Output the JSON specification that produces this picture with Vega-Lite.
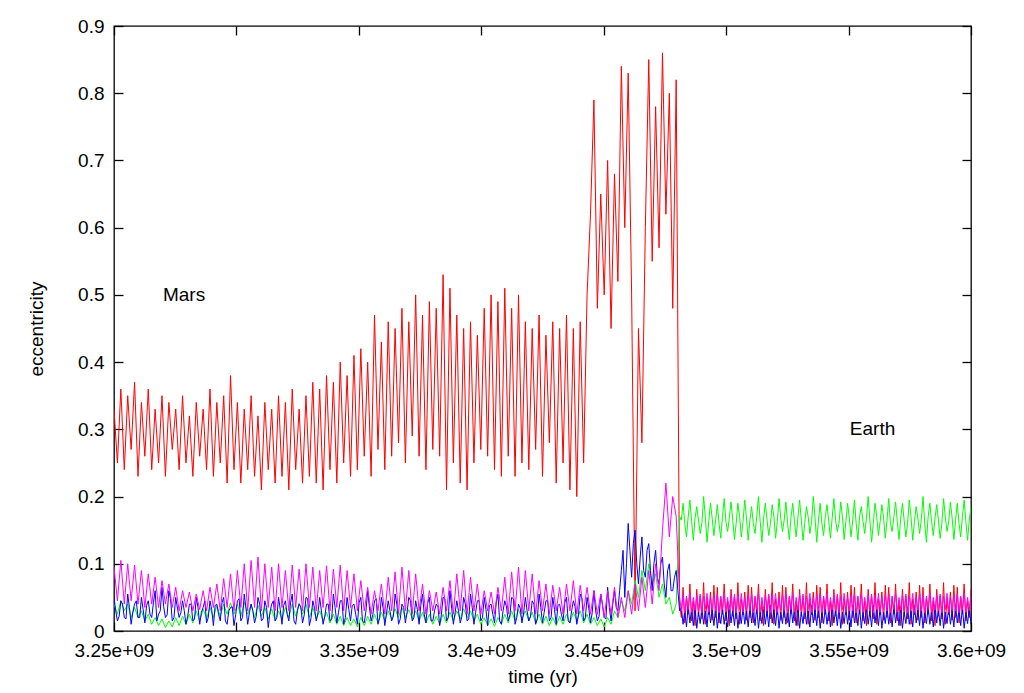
{
"$schema":"https://vega.github.io/schema/vega-lite/v6.json",
"width":857,"height":605,
"autosize":{"type":"none"},
"padding":{"left":114,"top":26,"right":53,"bottom":62},
"background":"white",
"config":{
 "view":{"stroke":"#000","strokeWidth":1.3},
 "font":"Liberation Sans",
 "axis":{"grid":false,"domain":false,"tickColor":"#000","tickSize":-9,"tickWidth":1.3,"labelFont":"Liberation Sans","labelFontSize":19,"labelColor":"#000","titleFont":"Liberation Sans","titleFontSize":19,"titleFontWeight":"normal","titleColor":"#000"}
},
"data":{"values":[
{"t":3.25e9,"mars":0.33,"earth":0.04,"venus":0.05,"mercury":0.095},
{"t":3.2514e9,"mars":0.25,"earth":0.025,"venus":0.015,"mercury":0.045},
{"t":3.2528e9,"mars":0.36,"earth":0.045,"venus":0.045,"mercury":0.105},
{"t":3.2542e9,"mars":0.24,"earth":0.03,"venus":0.02,"mercury":0.04},
{"t":3.2556e9,"mars":0.35,"earth":0.04,"venus":0.055,"mercury":0.1},
{"t":3.257e9,"mars":0.27,"earth":0.02,"venus":0.01,"mercury":0.045},
{"t":3.2584e9,"mars":0.37,"earth":0.035,"venus":0.04,"mercury":0.098},
{"t":3.2598e9,"mars":0.23,"earth":0.02,"venus":0.02,"mercury":0.04},
{"t":3.2612e9,"mars":0.34,"earth":0.03,"venus":0.05,"mercury":0.09},
{"t":3.2626e9,"mars":0.26,"earth":0.015,"venus":0.012,"mercury":0.035},
{"t":3.264e9,"mars":0.36,"earth":0.025,"venus":0.045,"mercury":0.085},
{"t":3.2654e9,"mars":0.24,"earth":0.01,"venus":0.02,"mercury":0.04},
{"t":3.2668e9,"mars":0.33,"earth":0.02,"venus":0.06,"mercury":0.08},
{"t":3.2682e9,"mars":0.25,"earth":0.008,"venus":0.025,"mercury":0.035},
{"t":3.2696e9,"mars":0.35,"earth":0.018,"venus":0.065,"mercury":0.075},
{"t":3.271e9,"mars":0.23,"earth":0.005,"venus":0.02,"mercury":0.04},
{"t":3.2724e9,"mars":0.34,"earth":0.015,"venus":0.06,"mercury":0.07},
{"t":3.2738e9,"mars":0.27,"earth":0.006,"venus":0.015,"mercury":0.035},
{"t":3.2752e9,"mars":0.33,"earth":0.02,"venus":0.05,"mercury":0.065},
{"t":3.2766e9,"mars":0.24,"earth":0.008,"venus":0.02,"mercury":0.03},
{"t":3.278e9,"mars":0.35,"earth":0.022,"venus":0.045,"mercury":0.06},
{"t":3.2794e9,"mars":0.25,"earth":0.01,"venus":0.01,"mercury":0.035},
{"t":3.2808e9,"mars":0.32,"earth":0.025,"venus":0.04,"mercury":0.058},
{"t":3.2822e9,"mars":0.23,"earth":0.012,"venus":0.015,"mercury":0.03},
{"t":3.2836e9,"mars":0.34,"earth":0.03,"venus":0.05,"mercury":0.055},
{"t":3.285e9,"mars":0.26,"earth":0.015,"venus":0.01,"mercury":0.032},
{"t":3.2864e9,"mars":0.33,"earth":0.033,"venus":0.035,"mercury":0.06},
{"t":3.2878e9,"mars":0.24,"earth":0.018,"venus":0.012,"mercury":0.03},
{"t":3.2892e9,"mars":0.36,"earth":0.035,"venus":0.045,"mercury":0.065},
{"t":3.2906e9,"mars":0.23,"earth":0.02,"venus":0.008,"mercury":0.035},
{"t":3.292e9,"mars":0.34,"earth":0.038,"venus":0.04,"mercury":0.07},
{"t":3.2934e9,"mars":0.25,"earth":0.022,"venus":0.015,"mercury":0.03},
{"t":3.2948e9,"mars":0.35,"earth":0.04,"venus":0.05,"mercury":0.078},
{"t":3.2962e9,"mars":0.22,"earth":0.025,"venus":0.01,"mercury":0.035},
{"t":3.2976e9,"mars":0.38,"earth":0.042,"venus":0.035,"mercury":0.085},
{"t":3.299e9,"mars":0.24,"earth":0.025,"venus":0.008,"mercury":0.03},
{"t":3.3004e9,"mars":0.34,"earth":0.04,"venus":0.045,"mercury":0.09},
{"t":3.3018e9,"mars":0.22,"earth":0.022,"venus":0.015,"mercury":0.035},
{"t":3.3032e9,"mars":0.33,"earth":0.043,"venus":0.055,"mercury":0.1},
{"t":3.3046e9,"mars":0.24,"earth":0.025,"venus":0.01,"mercury":0.03},
{"t":3.306e9,"mars":0.35,"earth":0.04,"venus":0.04,"mercury":0.105},
{"t":3.3074e9,"mars":0.23,"earth":0.02,"venus":0.012,"mercury":0.035},
{"t":3.3088e9,"mars":0.32,"earth":0.038,"venus":0.05,"mercury":0.11},
{"t":3.3102e9,"mars":0.21,"earth":0.022,"venus":0.015,"mercury":0.03},
{"t":3.3116e9,"mars":0.34,"earth":0.035,"venus":0.045,"mercury":0.1},
{"t":3.313e9,"mars":0.24,"earth":0.018,"venus":0.005,"mercury":0.035},
{"t":3.3144e9,"mars":0.33,"earth":0.033,"venus":0.04,"mercury":0.095},
{"t":3.3158e9,"mars":0.22,"earth":0.015,"venus":0.015,"mercury":0.03},
{"t":3.3172e9,"mars":0.35,"earth":0.03,"venus":0.05,"mercury":0.1},
{"t":3.3186e9,"mars":0.23,"earth":0.018,"venus":0.01,"mercury":0.035},
{"t":3.32e9,"mars":0.34,"earth":0.035,"venus":0.045,"mercury":0.09},
{"t":3.3214e9,"mars":0.21,"earth":0.02,"venus":0.015,"mercury":0.03},
{"t":3.3228e9,"mars":0.36,"earth":0.04,"venus":0.055,"mercury":0.098},
{"t":3.3242e9,"mars":0.24,"earth":0.022,"venus":0.01,"mercury":0.035},
{"t":3.3256e9,"mars":0.33,"earth":0.042,"venus":0.04,"mercury":0.092},
{"t":3.327e9,"mars":0.22,"earth":0.025,"venus":0.012,"mercury":0.03},
{"t":3.3284e9,"mars":0.35,"earth":0.04,"venus":0.05,"mercury":0.1},
{"t":3.3298e9,"mars":0.23,"earth":0.02,"venus":0.008,"mercury":0.035},
{"t":3.3312e9,"mars":0.37,"earth":0.035,"venus":0.045,"mercury":0.095},
{"t":3.3326e9,"mars":0.22,"earth":0.018,"venus":0.015,"mercury":0.03},
{"t":3.334e9,"mars":0.36,"earth":0.03,"venus":0.05,"mercury":0.09},
{"t":3.3354e9,"mars":0.21,"earth":0.015,"venus":0.01,"mercury":0.035},
{"t":3.3368e9,"mars":0.38,"earth":0.028,"venus":0.04,"mercury":0.097},
{"t":3.3382e9,"mars":0.24,"earth":0.012,"venus":0.015,"mercury":0.03},
{"t":3.3396e9,"mars":0.37,"earth":0.025,"venus":0.055,"mercury":0.092},
{"t":3.341e9,"mars":0.22,"earth":0.01,"venus":0.012,"mercury":0.035},
{"t":3.3424e9,"mars":0.40,"earth":0.022,"venus":0.045,"mercury":0.098},
{"t":3.3438e9,"mars":0.25,"earth":0.008,"venus":0.01,"mercury":0.03},
{"t":3.3452e9,"mars":0.38,"earth":0.02,"venus":0.05,"mercury":0.09},
{"t":3.3466e9,"mars":0.23,"earth":0.008,"venus":0.015,"mercury":0.035},
{"t":3.348e9,"mars":0.41,"earth":0.018,"venus":0.04,"mercury":0.085},
{"t":3.3494e9,"mars":0.24,"earth":0.006,"venus":0.01,"mercury":0.03},
{"t":3.3508e9,"mars":0.42,"earth":0.02,"venus":0.05,"mercury":0.075},
{"t":3.3522e9,"mars":0.26,"earth":0.008,"venus":0.012,"mercury":0.03},
{"t":3.3536e9,"mars":0.40,"earth":0.022,"venus":0.06,"mercury":0.065},
{"t":3.355e9,"mars":0.23,"earth":0.01,"venus":0.015,"mercury":0.025},
{"t":3.3564e9,"mars":0.47,"earth":0.025,"venus":0.045,"mercury":0.06},
{"t":3.3578e9,"mars":0.27,"earth":0.012,"venus":0.01,"mercury":0.03},
{"t":3.3592e9,"mars":0.43,"earth":0.028,"venus":0.05,"mercury":0.07},
{"t":3.3606e9,"mars":0.24,"earth":0.015,"venus":0.008,"mercury":0.025},
{"t":3.362e9,"mars":0.46,"earth":0.03,"venus":0.045,"mercury":0.08},
{"t":3.3634e9,"mars":0.26,"earth":0.018,"venus":0.015,"mercury":0.03},
{"t":3.3648e9,"mars":0.45,"earth":0.033,"venus":0.055,"mercury":0.088},
{"t":3.3662e9,"mars":0.28,"earth":0.02,"venus":0.01,"mercury":0.025},
{"t":3.3676e9,"mars":0.48,"earth":0.035,"venus":0.04,"mercury":0.095},
{"t":3.369e9,"mars":0.25,"earth":0.02,"venus":0.012,"mercury":0.03},
{"t":3.3704e9,"mars":0.46,"earth":0.032,"venus":0.05,"mercury":0.09},
{"t":3.3718e9,"mars":0.29,"earth":0.018,"venus":0.015,"mercury":0.025},
{"t":3.3732e9,"mars":0.50,"earth":0.03,"venus":0.045,"mercury":0.085},
{"t":3.3746e9,"mars":0.26,"earth":0.015,"venus":0.01,"mercury":0.03},
{"t":3.376e9,"mars":0.47,"earth":0.028,"venus":0.055,"mercury":0.07},
{"t":3.3774e9,"mars":0.24,"earth":0.012,"venus":0.012,"mercury":0.025},
{"t":3.3788e9,"mars":0.49,"earth":0.025,"venus":0.05,"mercury":0.06},
{"t":3.3802e9,"mars":0.27,"earth":0.01,"venus":0.015,"mercury":0.03},
{"t":3.3816e9,"mars":0.48,"earth":0.022,"venus":0.04,"mercury":0.058},
{"t":3.383e9,"mars":0.26,"earth":0.01,"venus":0.008,"mercury":0.025},
{"t":3.3844e9,"mars":0.53,"earth":0.025,"venus":0.05,"mercury":0.065},
{"t":3.3858e9,"mars":0.21,"earth":0.012,"venus":0.015,"mercury":0.03},
{"t":3.3872e9,"mars":0.51,"earth":0.028,"venus":0.06,"mercury":0.075},
{"t":3.3886e9,"mars":0.25,"earth":0.015,"venus":0.01,"mercury":0.025},
{"t":3.39e9,"mars":0.47,"earth":0.03,"venus":0.045,"mercury":0.085},
{"t":3.3914e9,"mars":0.22,"earth":0.018,"venus":0.012,"mercury":0.03},
{"t":3.3928e9,"mars":0.45,"earth":0.033,"venus":0.05,"mercury":0.09},
{"t":3.3942e9,"mars":0.21,"earth":0.02,"venus":0.015,"mercury":0.025},
{"t":3.3956e9,"mars":0.46,"earth":0.03,"venus":0.055,"mercury":0.08},
{"t":3.397e9,"mars":0.25,"earth":0.015,"venus":0.01,"mercury":0.03},
{"t":3.3984e9,"mars":0.44,"earth":0.025,"venus":0.045,"mercury":0.07},
{"t":3.3998e9,"mars":0.27,"earth":0.01,"venus":0.015,"mercury":0.025},
{"t":3.4012e9,"mars":0.48,"earth":0.02,"venus":0.05,"mercury":0.06},
{"t":3.4026e9,"mars":0.26,"earth":0.008,"venus":0.008,"mercury":0.03},
{"t":3.404e9,"mars":0.50,"earth":0.018,"venus":0.04,"mercury":0.058},
{"t":3.4054e9,"mars":0.24,"earth":0.007,"venus":0.012,"mercury":0.025},
{"t":3.4068e9,"mars":0.49,"earth":0.02,"venus":0.055,"mercury":0.065},
{"t":3.4082e9,"mars":0.23,"earth":0.01,"venus":0.01,"mercury":0.03},
{"t":3.4096e9,"mars":0.51,"earth":0.025,"venus":0.045,"mercury":0.08},
{"t":3.411e9,"mars":0.26,"earth":0.012,"venus":0.015,"mercury":0.025},
{"t":3.4124e9,"mars":0.48,"earth":0.03,"venus":0.05,"mercury":0.088},
{"t":3.4138e9,"mars":0.23,"earth":0.015,"venus":0.01,"mercury":0.03},
{"t":3.4152e9,"mars":0.50,"earth":0.032,"venus":0.04,"mercury":0.095},
{"t":3.4166e9,"mars":0.25,"earth":0.018,"venus":0.012,"mercury":0.025},
{"t":3.418e9,"mars":0.46,"earth":0.03,"venus":0.05,"mercury":0.09},
{"t":3.4194e9,"mars":0.24,"earth":0.015,"venus":0.015,"mercury":0.03},
{"t":3.4208e9,"mars":0.45,"earth":0.028,"venus":0.045,"mercury":0.085},
{"t":3.4222e9,"mars":0.27,"earth":0.012,"venus":0.01,"mercury":0.025},
{"t":3.4236e9,"mars":0.47,"earth":0.025,"venus":0.055,"mercury":0.075},
{"t":3.425e9,"mars":0.23,"earth":0.01,"venus":0.012,"mercury":0.03},
{"t":3.4264e9,"mars":0.44,"earth":0.022,"venus":0.045,"mercury":0.07},
{"t":3.4278e9,"mars":0.28,"earth":0.008,"venus":0.015,"mercury":0.025},
{"t":3.4292e9,"mars":0.46,"earth":0.02,"venus":0.05,"mercury":0.068},
{"t":3.4306e9,"mars":0.22,"earth":0.008,"venus":0.01,"mercury":0.03},
{"t":3.432e9,"mars":0.45,"earth":0.022,"venus":0.04,"mercury":0.065},
{"t":3.4334e9,"mars":0.25,"earth":0.01,"venus":0.015,"mercury":0.025},
{"t":3.4348e9,"mars":0.47,"earth":0.025,"venus":0.05,"mercury":0.07},
{"t":3.4362e9,"mars":0.21,"earth":0.012,"venus":0.012,"mercury":0.03},
{"t":3.4376e9,"mars":0.45,"earth":0.028,"venus":0.045,"mercury":0.075},
{"t":3.439e9,"mars":0.20,"earth":0.015,"venus":0.01,"mercury":0.025},
{"t":3.4404e9,"mars":0.46,"earth":0.03,"venus":0.055,"mercury":0.068},
{"t":3.4418e9,"mars":0.25,"earth":0.012,"venus":0.015,"mercury":0.03},
{"t":3.4432e9,"mars":0.50,"earth":0.025,"venus":0.05,"mercury":0.065},
{"t":3.4446e9,"mars":0.62,"earth":0.01,"venus":0.012,"mercury":0.025},
{"t":3.446e9,"mars":0.79,"earth":0.02,"venus":0.06,"mercury":0.06},
{"t":3.4474e9,"mars":0.48,"earth":0.008,"venus":0.015,"mercury":0.025},
{"t":3.4488e9,"mars":0.65,"earth":0.018,"venus":0.055,"mercury":0.055},
{"t":3.4502e9,"mars":0.50,"earth":0.006,"venus":0.02,"mercury":0.02},
{"t":3.4516e9,"mars":0.70,"earth":0.02,"venus":0.065,"mercury":0.06},
{"t":3.453e9,"mars":0.45,"earth":0.01,"venus":0.015,"mercury":0.025},
{"t":3.4544e9,"mars":0.68,"earth":0.03,"venus":0.06,"mercury":0.065},
{"t":3.4558e9,"mars":0.52,"earth":0.02,"venus":0.03,"mercury":0.02},
{"t":3.4572e9,"mars":0.84,"earth":0.045,"venus":0.09,"mercury":0.05},
{"t":3.4586e9,"mars":0.60,"earth":0.03,"venus":0.05,"mercury":0.02},
{"t":3.46e9,"mars":0.83,"earth":0.06,"venus":0.16,"mercury":0.06},
{"t":3.4614e9,"mars":0.50,"earth":0.04,"venus":0.08,"mercury":0.025},
{"t":3.4628e9,"mars":0.03,"earth":0.075,"venus":0.15,"mercury":0.07},
{"t":3.4642e9,"mars":0.45,"earth":0.05,"venus":0.07,"mercury":0.03},
{"t":3.4656e9,"mars":0.28,"earth":0.09,"venus":0.14,"mercury":0.08},
{"t":3.467e9,"mars":0.60,"earth":0.06,"venus":0.08,"mercury":0.035},
{"t":3.4684e9,"mars":0.85,"earth":0.1,"venus":0.13,"mercury":0.09},
{"t":3.4698e9,"mars":0.55,"earth":0.07,"venus":0.06,"mercury":0.04},
{"t":3.4712e9,"mars":0.78,"earth":0.085,"venus":0.12,"mercury":0.1},
{"t":3.4726e9,"mars":0.57,"earth":0.05,"venus":0.07,"mercury":0.06},
{"t":3.474e9,"mars":0.86,"earth":0.07,"venus":0.11,"mercury":0.15},
{"t":3.4754e9,"mars":0.62,"earth":0.04,"venus":0.05,"mercury":0.22},
{"t":3.4768e9,"mars":0.80,"earth":0.05,"venus":0.1,"mercury":0.14},
{"t":3.4782e9,"mars":0.48,"earth":0.025,"venus":0.06,"mercury":0.2},
{"t":3.4796e9,"mars":0.82,"earth":0.04,"venus":0.09,"mercury":0.17},
{"t":3.481e9,"mars":0.04,"earth":0.17,"venus":0.03,"mercury":0.05},
{"t":3.4824e9,"mars":0.065,"earth":0.19,"venus":0.01,"mercury":0.055},
{"t":3.4838e9,"mars":0.05,"earth":0.14,"venus":0.006,"mercury":0.052},
{"t":3.4852e9,"mars":0.07,"earth":0.195,"venus":0.012,"mercury":0.056},
{"t":3.4866e9,"mars":0.045,"earth":0.135,"venus":0.008,"mercury":0.05},
{"t":3.488e9,"mars":0.062,"earth":0.185,"venus":0.004,"mercury":0.054},
{"t":3.4894e9,"mars":0.052,"earth":0.145,"venus":0.011,"mercury":0.055},
{"t":3.4908e9,"mars":0.072,"earth":0.2,"venus":0.01,"mercury":0.052},
{"t":3.4922e9,"mars":0.048,"earth":0.132,"venus":0.006,"mercury":0.056},
{"t":3.4936e9,"mars":0.058,"earth":0.19,"venus":0.012,"mercury":0.05},
{"t":3.495e9,"mars":0.068,"earth":0.142,"venus":0.008,"mercury":0.054},
{"t":3.4964e9,"mars":0.065,"earth":0.188,"venus":0.004,"mercury":0.055},
{"t":3.4978e9,"mars":0.05,"earth":0.138,"venus":0.011,"mercury":0.052},
{"t":3.4992e9,"mars":0.07,"earth":0.197,"venus":0.01,"mercury":0.056},
{"t":3.5006e9,"mars":0.045,"earth":0.148,"venus":0.006,"mercury":0.05},
{"t":3.502e9,"mars":0.062,"earth":0.192,"venus":0.012,"mercury":0.054},
{"t":3.5034e9,"mars":0.052,"earth":0.136,"venus":0.008,"mercury":0.055},
{"t":3.5048e9,"mars":0.072,"earth":0.19,"venus":0.004,"mercury":0.052},
{"t":3.5062e9,"mars":0.048,"earth":0.14,"venus":0.011,"mercury":0.056},
{"t":3.5076e9,"mars":0.058,"earth":0.195,"venus":0.01,"mercury":0.05},
{"t":3.509e9,"mars":0.068,"earth":0.135,"venus":0.006,"mercury":0.054},
{"t":3.5104e9,"mars":0.065,"earth":0.185,"venus":0.012,"mercury":0.055},
{"t":3.5118e9,"mars":0.05,"earth":0.145,"venus":0.008,"mercury":0.052},
{"t":3.5132e9,"mars":0.07,"earth":0.2,"venus":0.004,"mercury":0.056},
{"t":3.5146e9,"mars":0.045,"earth":0.132,"venus":0.011,"mercury":0.05},
{"t":3.516e9,"mars":0.062,"earth":0.19,"venus":0.01,"mercury":0.054},
{"t":3.5174e9,"mars":0.052,"earth":0.142,"venus":0.006,"mercury":0.055},
{"t":3.5188e9,"mars":0.072,"earth":0.188,"venus":0.012,"mercury":0.052},
{"t":3.5202e9,"mars":0.048,"earth":0.138,"venus":0.008,"mercury":0.056},
{"t":3.5216e9,"mars":0.058,"earth":0.197,"venus":0.004,"mercury":0.05},
{"t":3.523e9,"mars":0.068,"earth":0.148,"venus":0.011,"mercury":0.054},
{"t":3.5244e9,"mars":0.065,"earth":0.192,"venus":0.01,"mercury":0.055},
{"t":3.5258e9,"mars":0.05,"earth":0.136,"venus":0.006,"mercury":0.052},
{"t":3.5272e9,"mars":0.07,"earth":0.19,"venus":0.012,"mercury":0.056},
{"t":3.5286e9,"mars":0.045,"earth":0.14,"venus":0.008,"mercury":0.05},
{"t":3.53e9,"mars":0.062,"earth":0.195,"venus":0.004,"mercury":0.054},
{"t":3.5314e9,"mars":0.052,"earth":0.135,"venus":0.011,"mercury":0.055},
{"t":3.5328e9,"mars":0.072,"earth":0.185,"venus":0.01,"mercury":0.052},
{"t":3.5342e9,"mars":0.048,"earth":0.145,"venus":0.006,"mercury":0.056},
{"t":3.5356e9,"mars":0.058,"earth":0.2,"venus":0.012,"mercury":0.05},
{"t":3.537e9,"mars":0.068,"earth":0.132,"venus":0.008,"mercury":0.054},
{"t":3.5384e9,"mars":0.065,"earth":0.19,"venus":0.004,"mercury":0.055},
{"t":3.5398e9,"mars":0.05,"earth":0.142,"venus":0.011,"mercury":0.052},
{"t":3.5412e9,"mars":0.07,"earth":0.188,"venus":0.01,"mercury":0.056},
{"t":3.5426e9,"mars":0.045,"earth":0.138,"venus":0.006,"mercury":0.05},
{"t":3.544e9,"mars":0.062,"earth":0.197,"venus":0.012,"mercury":0.054},
{"t":3.5454e9,"mars":0.052,"earth":0.148,"venus":0.008,"mercury":0.055},
{"t":3.5468e9,"mars":0.072,"earth":0.192,"venus":0.004,"mercury":0.052},
{"t":3.5482e9,"mars":0.048,"earth":0.136,"venus":0.011,"mercury":0.056},
{"t":3.5496e9,"mars":0.058,"earth":0.19,"venus":0.01,"mercury":0.05},
{"t":3.551e9,"mars":0.068,"earth":0.14,"venus":0.006,"mercury":0.054},
{"t":3.5524e9,"mars":0.065,"earth":0.195,"venus":0.012,"mercury":0.055},
{"t":3.5538e9,"mars":0.05,"earth":0.135,"venus":0.008,"mercury":0.052},
{"t":3.5552e9,"mars":0.07,"earth":0.185,"venus":0.004,"mercury":0.056},
{"t":3.5566e9,"mars":0.045,"earth":0.145,"venus":0.011,"mercury":0.05},
{"t":3.558e9,"mars":0.062,"earth":0.2,"venus":0.01,"mercury":0.054},
{"t":3.5594e9,"mars":0.052,"earth":0.132,"venus":0.006,"mercury":0.055},
{"t":3.5608e9,"mars":0.072,"earth":0.19,"venus":0.012,"mercury":0.052},
{"t":3.5622e9,"mars":0.048,"earth":0.142,"venus":0.008,"mercury":0.056},
{"t":3.5636e9,"mars":0.058,"earth":0.188,"venus":0.004,"mercury":0.05},
{"t":3.565e9,"mars":0.068,"earth":0.138,"venus":0.011,"mercury":0.054},
{"t":3.5664e9,"mars":0.065,"earth":0.197,"venus":0.01,"mercury":0.055},
{"t":3.5678e9,"mars":0.05,"earth":0.148,"venus":0.006,"mercury":0.052},
{"t":3.5692e9,"mars":0.07,"earth":0.192,"venus":0.012,"mercury":0.056},
{"t":3.5706e9,"mars":0.045,"earth":0.136,"venus":0.008,"mercury":0.05},
{"t":3.572e9,"mars":0.062,"earth":0.19,"venus":0.004,"mercury":0.054},
{"t":3.5734e9,"mars":0.052,"earth":0.14,"venus":0.011,"mercury":0.055},
{"t":3.5748e9,"mars":0.072,"earth":0.195,"venus":0.01,"mercury":0.052},
{"t":3.5762e9,"mars":0.048,"earth":0.135,"venus":0.006,"mercury":0.056},
{"t":3.5776e9,"mars":0.058,"earth":0.185,"venus":0.012,"mercury":0.05},
{"t":3.579e9,"mars":0.068,"earth":0.145,"venus":0.008,"mercury":0.054},
{"t":3.5804e9,"mars":0.065,"earth":0.2,"venus":0.004,"mercury":0.055},
{"t":3.5818e9,"mars":0.05,"earth":0.132,"venus":0.011,"mercury":0.052},
{"t":3.5832e9,"mars":0.07,"earth":0.19,"venus":0.01,"mercury":0.056},
{"t":3.5846e9,"mars":0.045,"earth":0.142,"venus":0.006,"mercury":0.05},
{"t":3.586e9,"mars":0.062,"earth":0.188,"venus":0.012,"mercury":0.054},
{"t":3.5874e9,"mars":0.052,"earth":0.138,"venus":0.008,"mercury":0.055},
{"t":3.5888e9,"mars":0.072,"earth":0.197,"venus":0.004,"mercury":0.052},
{"t":3.5902e9,"mars":0.048,"earth":0.148,"venus":0.011,"mercury":0.056},
{"t":3.5916e9,"mars":0.058,"earth":0.192,"venus":0.01,"mercury":0.05},
{"t":3.593e9,"mars":0.068,"earth":0.136,"venus":0.006,"mercury":0.054},
{"t":3.5944e9,"mars":0.065,"earth":0.19,"venus":0.012,"mercury":0.055},
{"t":3.5958e9,"mars":0.05,"earth":0.14,"venus":0.008,"mercury":0.052},
{"t":3.5972e9,"mars":0.07,"earth":0.195,"venus":0.004,"mercury":0.056},
{"t":3.5986e9,"mars":0.045,"earth":0.135,"venus":0.011,"mercury":0.05},
{"t":3.6e9,"mars":0.062,"earth":0.185,"venus":0.01,"mercury":0.054},
{"t":3.4817e9,"mars":0.02,"earth":0.165,"venus":0.035,"mercury":0.03},
{"t":3.4831e9,"mars":0.012,"earth":0.16,"venus":0.03,"mercury":0.027},
{"t":3.4845e9,"mars":0.025,"earth":0.17,"venus":0.038,"mercury":0.032},
{"t":3.4859e9,"mars":0.015,"earth":0.163,"venus":0.032,"mercury":0.028},
{"t":3.4873e9,"mars":0.008,"earth":0.168,"venus":0.036,"mercury":0.031},
{"t":3.4887e9,"mars":0.022,"earth":0.165,"venus":0.028,"mercury":0.03},
{"t":3.4901e9,"mars":0.018,"earth":0.16,"venus":0.035,"mercury":0.027},
{"t":3.4915e9,"mars":0.01,"earth":0.17,"venus":0.03,"mercury":0.032},
{"t":3.4929e9,"mars":0.024,"earth":0.163,"venus":0.038,"mercury":0.028},
{"t":3.4943e9,"mars":0.016,"earth":0.168,"venus":0.032,"mercury":0.031},
{"t":3.4957e9,"mars":0.02,"earth":0.165,"venus":0.036,"mercury":0.03},
{"t":3.4971e9,"mars":0.012,"earth":0.16,"venus":0.028,"mercury":0.027},
{"t":3.4985e9,"mars":0.025,"earth":0.17,"venus":0.035,"mercury":0.032},
{"t":3.4999e9,"mars":0.015,"earth":0.163,"venus":0.03,"mercury":0.028},
{"t":3.5013e9,"mars":0.008,"earth":0.168,"venus":0.038,"mercury":0.031},
{"t":3.5027e9,"mars":0.022,"earth":0.165,"venus":0.032,"mercury":0.03},
{"t":3.5041e9,"mars":0.018,"earth":0.16,"venus":0.036,"mercury":0.027},
{"t":3.5055e9,"mars":0.01,"earth":0.17,"venus":0.028,"mercury":0.032},
{"t":3.5069e9,"mars":0.024,"earth":0.163,"venus":0.035,"mercury":0.028},
{"t":3.5083e9,"mars":0.016,"earth":0.168,"venus":0.03,"mercury":0.031},
{"t":3.5097e9,"mars":0.02,"earth":0.165,"venus":0.038,"mercury":0.03},
{"t":3.5111e9,"mars":0.012,"earth":0.16,"venus":0.032,"mercury":0.027},
{"t":3.5125e9,"mars":0.025,"earth":0.17,"venus":0.036,"mercury":0.032},
{"t":3.5139e9,"mars":0.015,"earth":0.163,"venus":0.028,"mercury":0.028},
{"t":3.5153e9,"mars":0.008,"earth":0.168,"venus":0.035,"mercury":0.031},
{"t":3.5167e9,"mars":0.022,"earth":0.165,"venus":0.03,"mercury":0.03},
{"t":3.5181e9,"mars":0.018,"earth":0.16,"venus":0.038,"mercury":0.027},
{"t":3.5195e9,"mars":0.01,"earth":0.17,"venus":0.032,"mercury":0.032},
{"t":3.5209e9,"mars":0.024,"earth":0.163,"venus":0.036,"mercury":0.028},
{"t":3.5223e9,"mars":0.016,"earth":0.168,"venus":0.028,"mercury":0.031},
{"t":3.5237e9,"mars":0.02,"earth":0.165,"venus":0.035,"mercury":0.03},
{"t":3.5251e9,"mars":0.012,"earth":0.16,"venus":0.03,"mercury":0.027},
{"t":3.5265e9,"mars":0.025,"earth":0.17,"venus":0.038,"mercury":0.032},
{"t":3.5279e9,"mars":0.015,"earth":0.163,"venus":0.032,"mercury":0.028},
{"t":3.5293e9,"mars":0.008,"earth":0.168,"venus":0.036,"mercury":0.031},
{"t":3.5307e9,"mars":0.022,"earth":0.165,"venus":0.028,"mercury":0.03},
{"t":3.5321e9,"mars":0.018,"earth":0.16,"venus":0.035,"mercury":0.027},
{"t":3.5335e9,"mars":0.01,"earth":0.17,"venus":0.03,"mercury":0.032},
{"t":3.5349e9,"mars":0.024,"earth":0.163,"venus":0.038,"mercury":0.028},
{"t":3.5363e9,"mars":0.016,"earth":0.168,"venus":0.032,"mercury":0.031},
{"t":3.5377e9,"mars":0.02,"earth":0.165,"venus":0.036,"mercury":0.03},
{"t":3.5391e9,"mars":0.012,"earth":0.16,"venus":0.028,"mercury":0.027},
{"t":3.5405e9,"mars":0.025,"earth":0.17,"venus":0.035,"mercury":0.032},
{"t":3.5419e9,"mars":0.015,"earth":0.163,"venus":0.03,"mercury":0.028},
{"t":3.5433e9,"mars":0.008,"earth":0.168,"venus":0.038,"mercury":0.031},
{"t":3.5447e9,"mars":0.022,"earth":0.165,"venus":0.032,"mercury":0.03},
{"t":3.5461e9,"mars":0.018,"earth":0.16,"venus":0.036,"mercury":0.027},
{"t":3.5475e9,"mars":0.01,"earth":0.17,"venus":0.028,"mercury":0.032},
{"t":3.5489e9,"mars":0.024,"earth":0.163,"venus":0.035,"mercury":0.028},
{"t":3.5503e9,"mars":0.016,"earth":0.168,"venus":0.03,"mercury":0.031},
{"t":3.5517e9,"mars":0.02,"earth":0.165,"venus":0.038,"mercury":0.03},
{"t":3.5531e9,"mars":0.012,"earth":0.16,"venus":0.032,"mercury":0.027},
{"t":3.5545e9,"mars":0.025,"earth":0.17,"venus":0.036,"mercury":0.032},
{"t":3.5559e9,"mars":0.015,"earth":0.163,"venus":0.028,"mercury":0.028},
{"t":3.5573e9,"mars":0.008,"earth":0.168,"venus":0.035,"mercury":0.031},
{"t":3.5587e9,"mars":0.022,"earth":0.165,"venus":0.03,"mercury":0.03},
{"t":3.5601e9,"mars":0.018,"earth":0.16,"venus":0.038,"mercury":0.027},
{"t":3.5615e9,"mars":0.01,"earth":0.17,"venus":0.032,"mercury":0.032},
{"t":3.5629e9,"mars":0.024,"earth":0.163,"venus":0.036,"mercury":0.028},
{"t":3.5643e9,"mars":0.016,"earth":0.168,"venus":0.028,"mercury":0.031},
{"t":3.5657e9,"mars":0.02,"earth":0.165,"venus":0.035,"mercury":0.03},
{"t":3.5671e9,"mars":0.012,"earth":0.16,"venus":0.03,"mercury":0.027},
{"t":3.5685e9,"mars":0.025,"earth":0.17,"venus":0.038,"mercury":0.032},
{"t":3.5699e9,"mars":0.015,"earth":0.163,"venus":0.032,"mercury":0.028},
{"t":3.5713e9,"mars":0.008,"earth":0.168,"venus":0.036,"mercury":0.031},
{"t":3.5727e9,"mars":0.022,"earth":0.165,"venus":0.028,"mercury":0.03},
{"t":3.5741e9,"mars":0.018,"earth":0.16,"venus":0.035,"mercury":0.027},
{"t":3.5755e9,"mars":0.01,"earth":0.17,"venus":0.03,"mercury":0.032},
{"t":3.5769e9,"mars":0.024,"earth":0.163,"venus":0.038,"mercury":0.028},
{"t":3.5783e9,"mars":0.016,"earth":0.168,"venus":0.032,"mercury":0.031},
{"t":3.5797e9,"mars":0.02,"earth":0.165,"venus":0.036,"mercury":0.03},
{"t":3.5811e9,"mars":0.012,"earth":0.16,"venus":0.028,"mercury":0.027},
{"t":3.5825e9,"mars":0.025,"earth":0.17,"venus":0.035,"mercury":0.032},
{"t":3.5839e9,"mars":0.015,"earth":0.163,"venus":0.03,"mercury":0.028},
{"t":3.5853e9,"mars":0.008,"earth":0.168,"venus":0.038,"mercury":0.031},
{"t":3.5867e9,"mars":0.022,"earth":0.165,"venus":0.032,"mercury":0.03},
{"t":3.5881e9,"mars":0.018,"earth":0.16,"venus":0.036,"mercury":0.027},
{"t":3.5895e9,"mars":0.01,"earth":0.17,"venus":0.028,"mercury":0.032},
{"t":3.5909e9,"mars":0.024,"earth":0.163,"venus":0.035,"mercury":0.028},
{"t":3.5923e9,"mars":0.016,"earth":0.168,"venus":0.03,"mercury":0.031},
{"t":3.5937e9,"mars":0.02,"earth":0.165,"venus":0.038,"mercury":0.03},
{"t":3.5951e9,"mars":0.012,"earth":0.16,"venus":0.032,"mercury":0.027},
{"t":3.5965e9,"mars":0.025,"earth":0.17,"venus":0.036,"mercury":0.032},
{"t":3.5979e9,"mars":0.015,"earth":0.163,"venus":0.028,"mercury":0.028},
{"t":3.5993e9,"mars":0.02,"earth":0.165,"venus":0.035,"mercury":0.03},
{"t":3.2507e9,"venus":0.03},{"t":3.2521e9,"venus":0.022},{"t":3.2535e9,"venus":0.04},{"t":3.2549e9,"venus":0.018},{"t":3.2563e9,"venus":0.035},
{"t":3.2577e9,"venus":0.028},{"t":3.2591e9,"venus":0.045},{"t":3.2605e9,"venus":0.02},{"t":3.2619e9,"venus":0.032},{"t":3.2633e9,"venus":0.038},
{"t":3.2647e9,"venus":0.025},{"t":3.2661e9,"venus":0.042},{"t":3.2675e9,"venus":0.015},{"t":3.2689e9,"venus":0.03},{"t":3.2703e9,"venus":0.036},
{"t":3.2717e9,"venus":0.024},{"t":3.2731e9,"venus":0.048},{"t":3.2745e9,"venus":0.02},{"t":3.2759e9,"venus":0.034},{"t":3.2773e9,"venus":0.027},
{"t":3.2787e9,"venus":0.03},{"t":3.2801e9,"venus":0.022},{"t":3.2815e9,"venus":0.04},{"t":3.2829e9,"venus":0.018},{"t":3.2843e9,"venus":0.035},
{"t":3.2857e9,"venus":0.028},{"t":3.2871e9,"venus":0.045},{"t":3.2885e9,"venus":0.02},{"t":3.2899e9,"venus":0.032},{"t":3.2913e9,"venus":0.038},
{"t":3.2927e9,"venus":0.025},{"t":3.2941e9,"venus":0.042},{"t":3.2955e9,"venus":0.015},{"t":3.2969e9,"venus":0.03},{"t":3.2983e9,"venus":0.036},
{"t":3.2997e9,"venus":0.024},{"t":3.3011e9,"venus":0.048},{"t":3.3025e9,"venus":0.02},{"t":3.3039e9,"venus":0.034},{"t":3.3053e9,"venus":0.027},
{"t":3.3067e9,"venus":0.03},{"t":3.3081e9,"venus":0.022},{"t":3.3095e9,"venus":0.04},{"t":3.3109e9,"venus":0.018},{"t":3.3123e9,"venus":0.035},
{"t":3.3137e9,"venus":0.028},{"t":3.3151e9,"venus":0.045},{"t":3.3165e9,"venus":0.02},{"t":3.3179e9,"venus":0.032},{"t":3.3193e9,"venus":0.038},
{"t":3.3207e9,"venus":0.025},{"t":3.3221e9,"venus":0.042},{"t":3.3235e9,"venus":0.015},{"t":3.3249e9,"venus":0.03},{"t":3.3263e9,"venus":0.036},
{"t":3.3277e9,"venus":0.024},{"t":3.3291e9,"venus":0.048},{"t":3.3305e9,"venus":0.02},{"t":3.3319e9,"venus":0.034},{"t":3.3333e9,"venus":0.027},
{"t":3.3347e9,"venus":0.03},{"t":3.3361e9,"venus":0.022},{"t":3.3375e9,"venus":0.04},{"t":3.3389e9,"venus":0.018},{"t":3.3403e9,"venus":0.035},
{"t":3.3417e9,"venus":0.028},{"t":3.3431e9,"venus":0.045},{"t":3.3445e9,"venus":0.02},{"t":3.3459e9,"venus":0.032},{"t":3.3473e9,"venus":0.038},
{"t":3.3487e9,"venus":0.025},{"t":3.3501e9,"venus":0.042},{"t":3.3515e9,"venus":0.015},{"t":3.3529e9,"venus":0.03},{"t":3.3543e9,"venus":0.036},
{"t":3.3557e9,"venus":0.024},{"t":3.3571e9,"venus":0.048},{"t":3.3585e9,"venus":0.02},{"t":3.3599e9,"venus":0.034},{"t":3.3613e9,"venus":0.027},
{"t":3.3627e9,"venus":0.03},{"t":3.3641e9,"venus":0.022},{"t":3.3655e9,"venus":0.04},{"t":3.3669e9,"venus":0.018},{"t":3.3683e9,"venus":0.035},
{"t":3.3697e9,"venus":0.028},{"t":3.3711e9,"venus":0.045},{"t":3.3725e9,"venus":0.02},{"t":3.3739e9,"venus":0.032},{"t":3.3753e9,"venus":0.038},
{"t":3.3767e9,"venus":0.025},{"t":3.3781e9,"venus":0.042},{"t":3.3795e9,"venus":0.015},{"t":3.3809e9,"venus":0.03},{"t":3.3823e9,"venus":0.036},
{"t":3.3837e9,"venus":0.024},{"t":3.3851e9,"venus":0.048},{"t":3.3865e9,"venus":0.02},{"t":3.3879e9,"venus":0.034},{"t":3.3893e9,"venus":0.027},
{"t":3.3907e9,"venus":0.03},{"t":3.3921e9,"venus":0.022},{"t":3.3935e9,"venus":0.04},{"t":3.3949e9,"venus":0.018},{"t":3.3963e9,"venus":0.035},
{"t":3.3977e9,"venus":0.028},{"t":3.3991e9,"venus":0.045},{"t":3.4005e9,"venus":0.02},{"t":3.4019e9,"venus":0.032},{"t":3.4033e9,"venus":0.038},
{"t":3.4047e9,"venus":0.025},{"t":3.4061e9,"venus":0.042},{"t":3.4075e9,"venus":0.015},{"t":3.4089e9,"venus":0.03},{"t":3.4103e9,"venus":0.036},
{"t":3.4117e9,"venus":0.024},{"t":3.4131e9,"venus":0.048},{"t":3.4145e9,"venus":0.02},{"t":3.4159e9,"venus":0.034},{"t":3.4173e9,"venus":0.027},
{"t":3.4187e9,"venus":0.03},{"t":3.4201e9,"venus":0.022},{"t":3.4215e9,"venus":0.04},{"t":3.4229e9,"venus":0.018},{"t":3.4243e9,"venus":0.035},
{"t":3.4257e9,"venus":0.028},{"t":3.4271e9,"venus":0.045},{"t":3.4285e9,"venus":0.02},{"t":3.4299e9,"venus":0.032},{"t":3.4313e9,"venus":0.038},
{"t":3.4327e9,"venus":0.025},{"t":3.4341e9,"venus":0.042},{"t":3.4355e9,"venus":0.015},{"t":3.4369e9,"venus":0.03},{"t":3.4383e9,"venus":0.036},
{"t":3.4397e9,"venus":0.024},{"t":3.4411e9,"venus":0.048},{"t":3.4425e9,"venus":0.02},{"t":3.4439e9,"venus":0.034},{"t":3.4453e9,"venus":0.027},
{"t":3.4467e9,"venus":0.03},{"t":3.4481e9,"venus":0.022},{"t":3.4495e9,"venus":0.04},{"t":3.4509e9,"venus":0.018},{"t":3.4523e9,"venus":0.035},
{"t":3.4537e9,"venus":0.04},{"t":3.4551e9,"venus":0.035},{"t":3.4565e9,"venus":0.06},{"t":3.4579e9,"venus":0.12},{"t":3.4593e9,"venus":0.1},
{"t":3.4607e9,"venus":0.12},{"t":3.4621e9,"venus":0.13},{"t":3.4635e9,"venus":0.1},{"t":3.4649e9,"venus":0.11},{"t":3.4663e9,"venus":0.09},
{"t":3.4677e9,"venus":0.12},{"t":3.4691e9,"venus":0.09},{"t":3.4705e9,"venus":0.1},{"t":3.4719e9,"venus":0.08},{"t":3.4733e9,"venus":0.1},
{"t":3.4747e9,"venus":0.07},{"t":3.4761e9,"venus":0.09},{"t":3.4775e9,"venus":0.06},{"t":3.4789e9,"venus":0.08},{"t":3.4803e9,"venus":0.06}
]},
"layer":[
 {"mark":{"type":"line","color":"#ff0000","strokeWidth":1,"clip":true,"invalid":"filter"},
  "encoding":{
   "x":{"field":"t","type":"quantitative","scale":{"domain":[3.25e9,3.6e9],"nice":false,"zero":false},
        "axis":{"orient":"bottom","values":[3.25e9,3.3e9,3.35e9,3.4e9,3.45e9,3.5e9,3.55e9,3.6e9],"labelExpr":"format(datum.value/1e9,'.3~f')+'e+09'","labelPadding":19,"labelFlush":false,"labelOverlap":false,"title":"time (yr)","titlePadding":7}},
   "y":{"field":"mars","type":"quantitative","scale":{"domain":[0,0.9],"nice":false},
        "axis":{"orient":"left","values":[0,0.1,0.2,0.3,0.4,0.5,0.6,0.7,0.8,0.9],"format":".1~f","labelPadding":19,"labelFlush":false,"labelOverlap":false,"title":"eccentricity","titlePadding":31}}
  }},
 {"mark":{"type":"line","color":"#00ff00","strokeWidth":1,"clip":true,"invalid":"filter"},
  "encoding":{
   "x":{"field":"t","type":"quantitative","scale":{"domain":[3.25e9,3.6e9],"nice":false,"zero":false},"axis":null},
   "y":{"field":"earth","type":"quantitative","scale":{"domain":[0,0.9],"nice":false},"axis":null}
  }},
 {"mark":{"type":"line","color":"#0000ff","strokeWidth":1,"clip":true,"invalid":"filter"},
  "encoding":{
   "x":{"field":"t","type":"quantitative","scale":{"domain":[3.25e9,3.6e9],"nice":false,"zero":false},"axis":null},
   "y":{"field":"venus","type":"quantitative","scale":{"domain":[0,0.9],"nice":false},"axis":null}
  }},
 {"mark":{"type":"line","color":"#ff00ff","strokeWidth":1,"clip":true,"invalid":"filter"},
  "encoding":{
   "x":{"field":"t","type":"quantitative","scale":{"domain":[3.25e9,3.6e9],"nice":false,"zero":false},"axis":null},
   "y":{"field":"mercury","type":"quantitative","scale":{"domain":[0,0.9],"nice":false},"axis":null}
  }},
 {"data":{"values":[{"label":"Mars","t":3.2786e9,"e":0.5},{"label":"Earth","t":3.5598e9,"e":0.3}]},
  "mark":{"type":"text","fontSize":19,"font":"Liberation Sans","color":"#000","align":"center","baseline":"middle"},
  "encoding":{
   "x":{"field":"t","type":"quantitative","scale":{"domain":[3.25e9,3.6e9],"nice":false,"zero":false},
        "axis":{"orient":"top","values":[3.25e9,3.3e9,3.35e9,3.4e9,3.45e9,3.5e9,3.55e9,3.6e9],"labels":false,"title":null}},
   "y":{"field":"e","type":"quantitative","scale":{"domain":[0,0.9],"nice":false},
        "axis":{"orient":"right","values":[0,0.1,0.2,0.3,0.4,0.5,0.6,0.7,0.8,0.9],"labels":false,"title":null}},
   "text":{"field":"label"}
  }}
],
"resolve":{"axis":{"x":"independent","y":"independent"}}
}
